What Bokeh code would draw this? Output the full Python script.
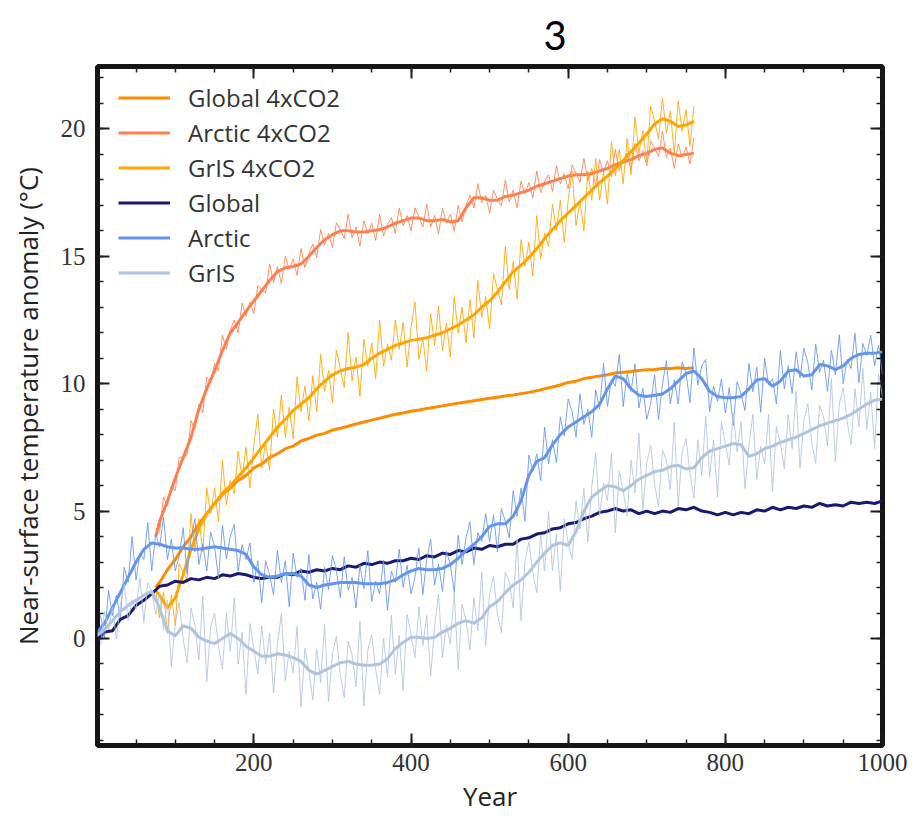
from bokeh.plotting import figure
from bokeh.models import Range1d, LinearAxis, SingleIntervalTicker, Legend, LegendItem
from bokeh.embed import file_html
from bokeh.resources import INLINE

# ---------------- data ----------------
# control runs: raw values every 5 years (5..1000), smooth every 10 years (0..1000)
global_ctrl = [
    -0.1, 0.25, 0.3, 0.75, 0.9, 1.3, 1.5, 1.75, 2.05, 2.1,
    2.25, 2.2, 2.35, 2.3, 2.4, 2.35, 2.5, 2.45, 2.55, 2.5,
    2.4, 2.35, 2.4, 2.4, 2.55, 2.5, 2.65, 2.6, 2.7, 2.65,
    2.75, 2.7, 2.85, 2.8, 2.95, 2.9, 3.0, 2.95, 3.05, 3.05,
    3.15, 3.1, 3.25, 3.2, 3.35, 3.3, 3.45, 3.4, 3.55, 3.5,
    3.65, 3.6, 3.7, 3.7, 3.9, 3.95, 4.1, 4.15, 4.3, 4.35,
    4.5, 4.55, 4.7, 4.8, 4.95, 5.0, 5.1, 5.0, 5.05, 4.9,
    5.0, 4.9, 5.0, 4.95, 5.1, 5.05, 5.15, 5.0, 4.95, 4.85,
    4.95, 4.85, 4.95, 4.9, 5.05, 5.0, 5.15, 5.05, 5.15, 5.1,
    5.2, 5.15, 5.3, 5.2, 5.25, 5.2, 5.35, 5.3, 5.35, 5.3,
    5.4,
]

arctic_raw = [
    0.9, 0.0, 1.9, 0.9, 1.7, 0.8, 2.8, 2.2, 4.0, 2.3, 3.35, 3.1, 4.55, 2.65, 4.1, 3.6, 4.75, 3.1, 3.9, 2.65,
    3.25, 4.35, 2.52, 3.9, 4.7, 2.9, 3.72, 2.65, 4.18, 3.6, 2.38, 4.45, 3.12, 4.0, 4.48, 2.65, 3.68, 3.1, 3.75, 2.2,
    3.05, 1.4, 3.05, 2.5, 1.72, 3.45, 2.2, 3.05, 1.25, 3.35, 2.4, 2.75, 1.5, 3.3, 1.55, 2.2, 1.15, 2.8, 1.92, 3.25,
    2.68, 1.6, 3.2, 1.9, 2.4, 1.2, 2.88, 1.95, 3.45, 1.45, 2.25, 1.75, 3.08, 1.1, 2.65, 2.2, 3.5, 2.0, 2.88, 1.75,
    2.4, 3.55, 1.72, 3.1, 3.9, 2.1, 2.92, 1.85, 3.42, 2.9, 1.82, 4.05, 2.9, 3.95, 4.58, 2.9, 4.15, 3.8, 4.9, 3.8,
    4.85, 3.4, 5.1, 4.6, 3.95, 5.8, 4.8, 5.9, 4.6, 7.2, 6.6, 7.25, 6.2, 8.3, 6.85, 7.8, 6.9, 8.7, 7.95, 9.4,
    8.9, 7.9, 9.6, 8.4, 9.0, 7.9, 9.75, 9.0, 10.8, 9.1, 10.15, 9.9, 11.15, 9.1, 10.4, 9.7, 10.78, 9.05, 9.82, 8.6,
    9.22, 10.35, 8.58, 10.0, 10.9, 9.2, 10.15, 9.2, 10.85, 10.4, 9.25, 11.4, 9.95, 10.7, 10.95, 8.9, 9.9, 9.3, 10.18, 8.85,
    9.85, 8.35, 10.08, 9.6, 8.95, 10.8, 9.68, 10.65, 8.88, 11.0, 9.95, 10.2, 9.2, 11.3, 9.8, 10.7, 9.62, 11.25, 10.22, 11.4,
    10.82, 9.75, 11.55, 10.45, 10.92, 9.7, 11.32, 10.35, 11.92, 10.0, 10.95, 10.6, 11.98, 10.05, 11.58, 11.1, 11.9, 10.7, 11.52, 10.35,
]

arctic_smooth = [
    0.2, 0.6, 1.2, 1.8, 2.4, 3.0, 3.5, 3.75, 3.7, 3.6,
    3.55, 3.55, 3.5, 3.5, 3.55, 3.6, 3.55, 3.5, 3.45, 3.3,
    2.8, 2.5, 2.4, 2.45, 2.55, 2.55, 2.45, 2.1, 2.0, 2.1,
    2.15, 2.2, 2.2, 2.2, 2.15, 2.15, 2.15, 2.2, 2.3, 2.5,
    2.65, 2.75, 2.7, 2.7, 2.75, 2.9, 3.15, 3.45, 3.7, 4.0,
    4.4, 4.5, 4.5, 4.8, 5.4, 6.4, 6.95, 7.1, 7.6, 8.0,
    8.3, 8.5, 8.7, 8.9, 9.2, 9.8, 10.3, 10.2, 9.8, 9.55,
    9.5, 9.55, 9.6, 9.8, 10.1, 10.4, 10.5, 10.2, 9.7, 9.5,
    9.45, 9.45, 9.5, 9.8, 10.15, 10.2, 9.9, 10.1, 10.5, 10.55,
    10.3, 10.35, 10.75, 10.7, 10.55, 10.7, 11.0, 11.15, 11.2, 11.2,
    11.25,
]

gris_raw = [
    -0.26, 1.07, 0.34, 1.24, -0.02, 1.29, 2.14, 0.7, 1.52, 1.14, 2.38, 0.62, 2.2, 1.85, 0.94, 1.8, 0.35, 1.5, -1.1, 0.6,
    1.4, 0.0, -0.95, 1.2, 0.52, -0.85, 1.68, -1.7, 0.45, 1.0, -0.3, -1.2, 1.0, -0.5, 1.6, -1.0, 0.25, -2.2, 0.6, -0.4,
    -1.4, 0.5, -1.0, 0.2, -2.15, -0.2, 0.98, -1.65, -0.5, -1.35, 0.48, -2.7, -0.38, -1.25, -2.42, -0.4, -1.72, 0.55, -2.48, -0.6,
    0.08, -1.45, -2.32, -0.1, -0.65, -1.9, 0.68, -2.65, -0.45, 0.15, -1.22, -2.2, 0.0, -1.5, 0.9, -1.4, 0.12, -2.05, 0.95, 0.15,
    -0.75, 1.25, -0.28, 0.9, -1.48, 0.45, 1.75, -0.75, 0.52, -0.2, 1.8, -1.2, 1.35, 0.7, -0.45, 1.6, 0.3, 2.6, -0.28, 1.75,
    2.45, 0.95, 0.22, 2.6, 2.25, 1.2, 3.9, 0.7, 3.05, 3.8, 2.6, 1.8, 4.08, 2.65, 5.0, 2.65, 4.1, 1.85, 4.7, 3.75,
    3.1, 5.4, 4.3, 5.9, 3.78, 5.95, 7.28, 4.8, 6.1, 5.4, 7.28, 4.15, 6.58, 5.8, 4.8, 7.0, 5.72, 8.05, 5.02, 6.9,
    7.58, 6.05, 5.18, 7.4, 6.98, 5.85, 8.48, 5.2, 7.32, 7.85, 6.48, 5.5, 7.8, 6.4, 8.72, 6.35, 7.8, 5.55, 8.5, 7.65,
    6.8, 8.85, 7.32, 8.5, 5.88, 7.55, 8.8, 6.25, 7.55, 6.85, 8.8, 5.75, 8.32, 7.7, 6.65, 8.8, 7.45, 9.7, 6.68, 8.55,
    9.22, 7.7, 6.88, 9.15, 8.7, 7.55, 10.2, 6.95, 9.2, 9.85, 8.52, 7.6, 9.8, 8.3, 10.6, 8.2, 9.68, 7.45, 10.38, 9.5,
]

gris_smooth = [
    0.1, 0.35, 0.7, 1.05, 1.3, 1.5, 1.7, 1.85, 1.2, 0.3,
    0.1, 0.5, 0.4, 0.05, -0.1, -0.2, 0.0, 0.2, 0.0, -0.3,
    -0.5, -0.7, -0.7, -0.6, -0.65, -0.75, -0.9, -1.25, -1.4, -1.25,
    -1.1, -0.95, -0.9, -1.0, -1.05, -1.05, -1.0, -0.8, -0.4, -0.15,
    0.05, 0.05, 0.0, 0.05, 0.25, 0.4, 0.6, 0.7, 0.6, 0.8,
    1.25, 1.45, 1.8, 2.1, 2.3, 2.6, 3.0, 3.35, 3.65, 3.75,
    3.65, 4.2, 5.0, 5.55, 5.8, 6.0, 5.95, 5.8, 6.0, 6.25,
    6.4, 6.55, 6.6, 6.75, 6.8, 6.65, 6.7, 7.1, 7.35, 7.45,
    7.55, 7.65, 7.6, 7.15, 7.25, 7.45, 7.55, 7.7, 7.8, 7.9,
    8.05, 8.2, 8.35, 8.45, 8.55, 8.65, 8.8, 9.0, 9.2, 9.35,
    9.4,
]

# 4xCO2 runs: raw every 5 years (75..760), smooth at 75 then every 10 years (80..760)
global4 = [
    2.0, 2.2, 2.7, 3.1, 3.6, 4.0, 4.5, 4.9, 5.3, 5.65,
    5.9, 6.2, 6.4, 6.7, 6.85, 7.1, 7.25, 7.45, 7.55, 7.75,
    7.85, 7.98, 8.05, 8.18, 8.25, 8.33, 8.42, 8.5, 8.57, 8.65,
    8.72, 8.8, 8.85, 8.92, 8.97, 9.03, 9.08, 9.13, 9.18, 9.23,
    9.28, 9.33, 9.38, 9.43, 9.47, 9.52, 9.56, 9.61, 9.66, 9.72,
    9.8, 9.87, 9.95, 10.05, 10.1, 10.2, 10.25, 10.3, 10.35, 10.42,
    10.45, 10.48, 10.52, 10.55, 10.56, 10.6, 10.6, 10.63, 10.6, 10.63,
]

arctic4_raw = [
    4.0, 4.2, 5.55, 5.2, 6.0, 5.8, 7.1, 7.15, 7.2, 8.55, 8.2, 9.2, 8.85, 10.25, 10.05, 10.8, 10.5, 11.9, 11.35, 12.1,
    12.5, 12.0, 13.17, 12.65, 13.2, 12.75, 13.85, 13.7, 13.55, 14.7, 13.97, 14.6, 13.93, 15.0, 14.48, 14.9, 14.25, 15.3, 14.55, 15.1,
    15.48, 14.95, 16.05, 15.45, 15.9, 15.35, 16.32, 16.05, 15.7, 16.65, 15.73, 16.15, 15.4, 16.4, 15.88, 16.3, 15.62, 16.65, 15.8, 16.25,
    16.52, 15.9, 16.9, 16.2, 16.6, 16.0, 16.9, 16.55, 16.15, 17.05, 16.15, 16.6, 15.87, 16.9, 16.3, 16.65, 15.98, 17.0, 16.35, 17.0,
    17.4, 16.9, 17.85, 17.1, 17.4, 16.7, 17.6, 17.25, 16.98, 18.0, 17.13, 17.6, 16.9, 17.95, 17.45, 17.9, 17.28, 18.35, 17.5, 17.95,
    18.2, 17.55, 18.55, 17.85, 18.25, 17.65, 18.58, 18.25, 17.9, 18.85, 17.97, 18.45, 17.75, 18.8, 18.3, 18.75, 18.12, 19.2, 18.35, 18.8,
    19.05, 18.4, 19.43, 18.75, 19.15, 18.55, 19.52, 19.25, 18.92, 19.9, 18.9, 19.25, 18.45, 19.4, 18.88, 19.3, 18.62, 19.65,
]

arctic4_smooth = [
    4.0, 4.6, 5.4, 6.3, 7.1, 7.9, 9.0, 9.8, 10.5, 11.3,
    12.0, 12.4, 12.85, 13.25, 13.65, 14.05, 14.4, 14.55, 14.6, 14.7,
    15.0, 15.35, 15.65, 15.85, 16.0, 16.0, 15.95, 15.95, 16.0, 16.05,
    16.15, 16.3, 16.4, 16.5, 16.5, 16.4, 16.4, 16.45, 16.35, 16.4,
    16.9, 17.3, 17.3, 17.2, 17.2, 17.35, 17.4, 17.5, 17.6, 17.75,
    17.85, 17.95, 18.05, 18.15, 18.2, 18.2, 18.25, 18.35, 18.45, 18.6,
    18.7, 18.8, 18.95, 19.05, 19.2, 19.25, 19.05, 18.95, 19.0, 19.05,
]

gris4_raw = [
    1.9, 0.8, 1.85, 0.2, 1.7, 0.5, 2.95, 2.6, 2.3, 4.9, 3.4, 4.7, 3.4, 5.9, 4.9, 5.9, 4.6, 7.0, 5.25, 6.2,
    5.68, 7.35, 6.32, 7.5, 5.9, 7.6, 8.8, 6.7, 7.7, 6.6, 9.0, 7.9, 9.55, 7.9, 9.08, 7.85, 10.28, 8.9, 9.92, 8.55,
    10.32, 8.9, 11.15, 9.7, 10.52, 9.25, 11.32, 10.6, 9.85, 12.0, 10.12, 11.05, 9.5, 11.75, 10.68, 11.6, 10.2, 12.5, 10.68, 11.55,
    10.92, 12.5, 11.35, 12.4, 10.65, 12.2, 13.22, 10.95, 11.78, 10.5, 12.75, 11.5, 13.05, 11.3, 12.38, 11.05, 13.42, 12.0, 13.0, 11.6,
    13.3, 11.8, 14.05, 12.6, 13.42, 12.15, 14.32, 13.7, 13.1, 15.4, 13.7, 14.8, 13.32, 15.65, 14.6, 15.55, 14.22, 16.6, 14.9, 15.9,
    15.38, 17.05, 16.02, 17.2, 15.55, 17.2, 18.35, 16.2, 17.15, 16.0, 18.35, 17.2, 18.85, 17.2, 18.32, 17.05, 19.5, 18.15, 19.2, 17.85,
    19.62, 18.2, 20.48, 19.05, 19.92, 18.7, 20.9, 20.3, 19.6, 21.2, 19.85, 20.7, 19.0, 21.1, 19.92, 20.75, 19.32, 20.9,
]

gris4_smooth = [
    1.9, 1.7, 1.2, 1.6, 2.5, 3.5, 4.3, 4.9, 5.3, 5.7,
    6.0, 6.35, 6.7, 7.1, 7.5, 7.9, 8.3, 8.6, 8.95, 9.2,
    9.45, 9.8, 10.1, 10.35, 10.5, 10.6, 10.65, 10.75, 11.0, 11.2,
    11.35, 11.5, 11.6, 11.7, 11.75, 11.8, 11.9, 12.0, 12.15, 12.3,
    12.5, 12.7, 13.0, 13.25, 13.6, 14.0, 14.4, 14.65, 14.95, 15.3,
    15.7, 16.05, 16.4, 16.7, 17.0, 17.3, 17.6, 17.9, 18.15, 18.45,
    18.75, 19.1, 19.45, 19.8, 20.2, 20.4, 20.3, 20.1, 20.15, 20.3,
]

labels = ["Global 4xCO2", "Arctic 4xCO2", "GrIS 4xCO2", "Global", "Arctic", "GrIS"]
colors = ["darkorange", "coral", "orange", "midnightblue", "cornflowerblue", "lightsteelblue"]
title_text = "3"

# year axes
ctrl_raw_years = list(range(5, 5 + 5 * len(arctic_raw), 5))
ctrl_smooth_years = list(range(0, 10 * len(arctic_smooth), 10))
co2_raw_years = list(range(75, 75 + 5 * len(gris4_raw), 5))
co2_smooth_years = [75] + list(range(80, 80 + 10 * (len(gris4_smooth) - 1), 10))

# ---------------- figure ----------------
p = figure(width=915, height=818, output_backend="svg", toolbar_location=None,
           x_range=Range1d(1, 1000), y_range=Range1d(-4.2, 22.45),
           min_border_left=97, min_border_right=33, min_border_top=66, min_border_bottom=73,
           x_axis_label="Year", y_axis_label="Near-surface temperature anomaly (°C)")
p.grid.visible = False
p.outline_line_color = "#151515"
p.outline_line_width = 5
p.background_fill_color = "white"
p.border_fill_color = "white"

p.title.text = title_text
p.title.text_font = "Lato"
p.title.text_font_size = "40px"
p.title.text_font_style = "normal"
p.title.text_color = "#000000"
p.title.align = "left"
p.title.offset = 446
p.title.standoff = 33

xt = SingleIntervalTicker(interval=200, num_minor_ticks=4)
yt = SingleIntervalTicker(interval=5, num_minor_ticks=5)


def style_axis(ax, show_labels):
    ax.axis_line_color = None
    ax.major_tick_in = 12
    ax.major_tick_out = 0
    ax.minor_tick_in = 6
    ax.minor_tick_out = 0
    ax.major_tick_line_color = "#1e1e1e"
    ax.major_tick_line_width = 2
    ax.minor_tick_line_color = "#1e1e1e"
    ax.minor_tick_line_width = 1.5
    if show_labels:
        ax.major_label_text_font = "Liberation Serif"
        ax.major_label_text_font_size = "25px"
        ax.major_label_text_color = "#333333"
        ax.axis_label_text_font = "Open Sans"
        ax.axis_label_text_font_size = "26px"
        ax.axis_label_text_font_style = "normal"
        ax.axis_label_text_color = "#222222"
    else:
        ax.major_label_text_font_size = "1px"
        ax.major_label_text_color = None
        ax.major_label_standoff = 0


xa = p.xaxis[0]
xa.ticker = xt
style_axis(xa, True)
xa.major_label_standoff = 8
xa.axis_label_standoff = 4

ya = p.yaxis[0]
ya.ticker = yt
style_axis(ya, True)
ya.major_label_standoff = 12
ya.axis_label_standoff = 12

top_ax = LinearAxis(ticker=xt)
style_axis(top_ax, False)
p.add_layout(top_ax, "above")
right_ax = LinearAxis(ticker=yt)
style_axis(right_ax, False)
p.add_layout(right_ax, "right")

# ---------------- lines ----------------
r_g4 = p.line(co2_smooth_years, global4, line_color=colors[0], line_width=3)

p.line(co2_raw_years, arctic4_raw, line_color=colors[1], line_width=1, line_alpha=0.85)
r_a4 = p.line(co2_smooth_years, arctic4_smooth, line_color=colors[1], line_width=3)

p.line(co2_raw_years, gris4_raw, line_color=colors[2], line_width=1, line_alpha=0.85)
r_s4 = p.line(co2_smooth_years, gris4_smooth, line_color=colors[2], line_width=3)

r_g = p.line(ctrl_smooth_years, global_ctrl, line_color=colors[3], line_width=3)

p.line(ctrl_raw_years, arctic_raw, line_color=colors[4], line_width=1, line_alpha=0.85)
r_a = p.line(ctrl_smooth_years, arctic_smooth, line_color=colors[4], line_width=3)

p.line(ctrl_raw_years, gris_raw, line_color=colors[5], line_width=1, line_alpha=0.85)
r_s = p.line(ctrl_smooth_years, gris_smooth, line_color=colors[5], line_width=3)

legend = Legend(items=[LegendItem(label=l, renderers=[r]) for l, r in
                       zip(labels, [r_g4, r_a4, r_s4, r_g, r_a, r_s])],
                location=(21, 455), border_line_color=None, background_fill_alpha=0,
                label_text_font="Open Sans", label_text_font_size="24px",
                label_text_color="#333333", glyph_width=52, glyph_height=35,
                label_height=35, label_standoff=18, spacing=0, padding=0, margin=0)
p.add_layout(legend)

open("out.html", "w").write(file_html(p, INLINE))
